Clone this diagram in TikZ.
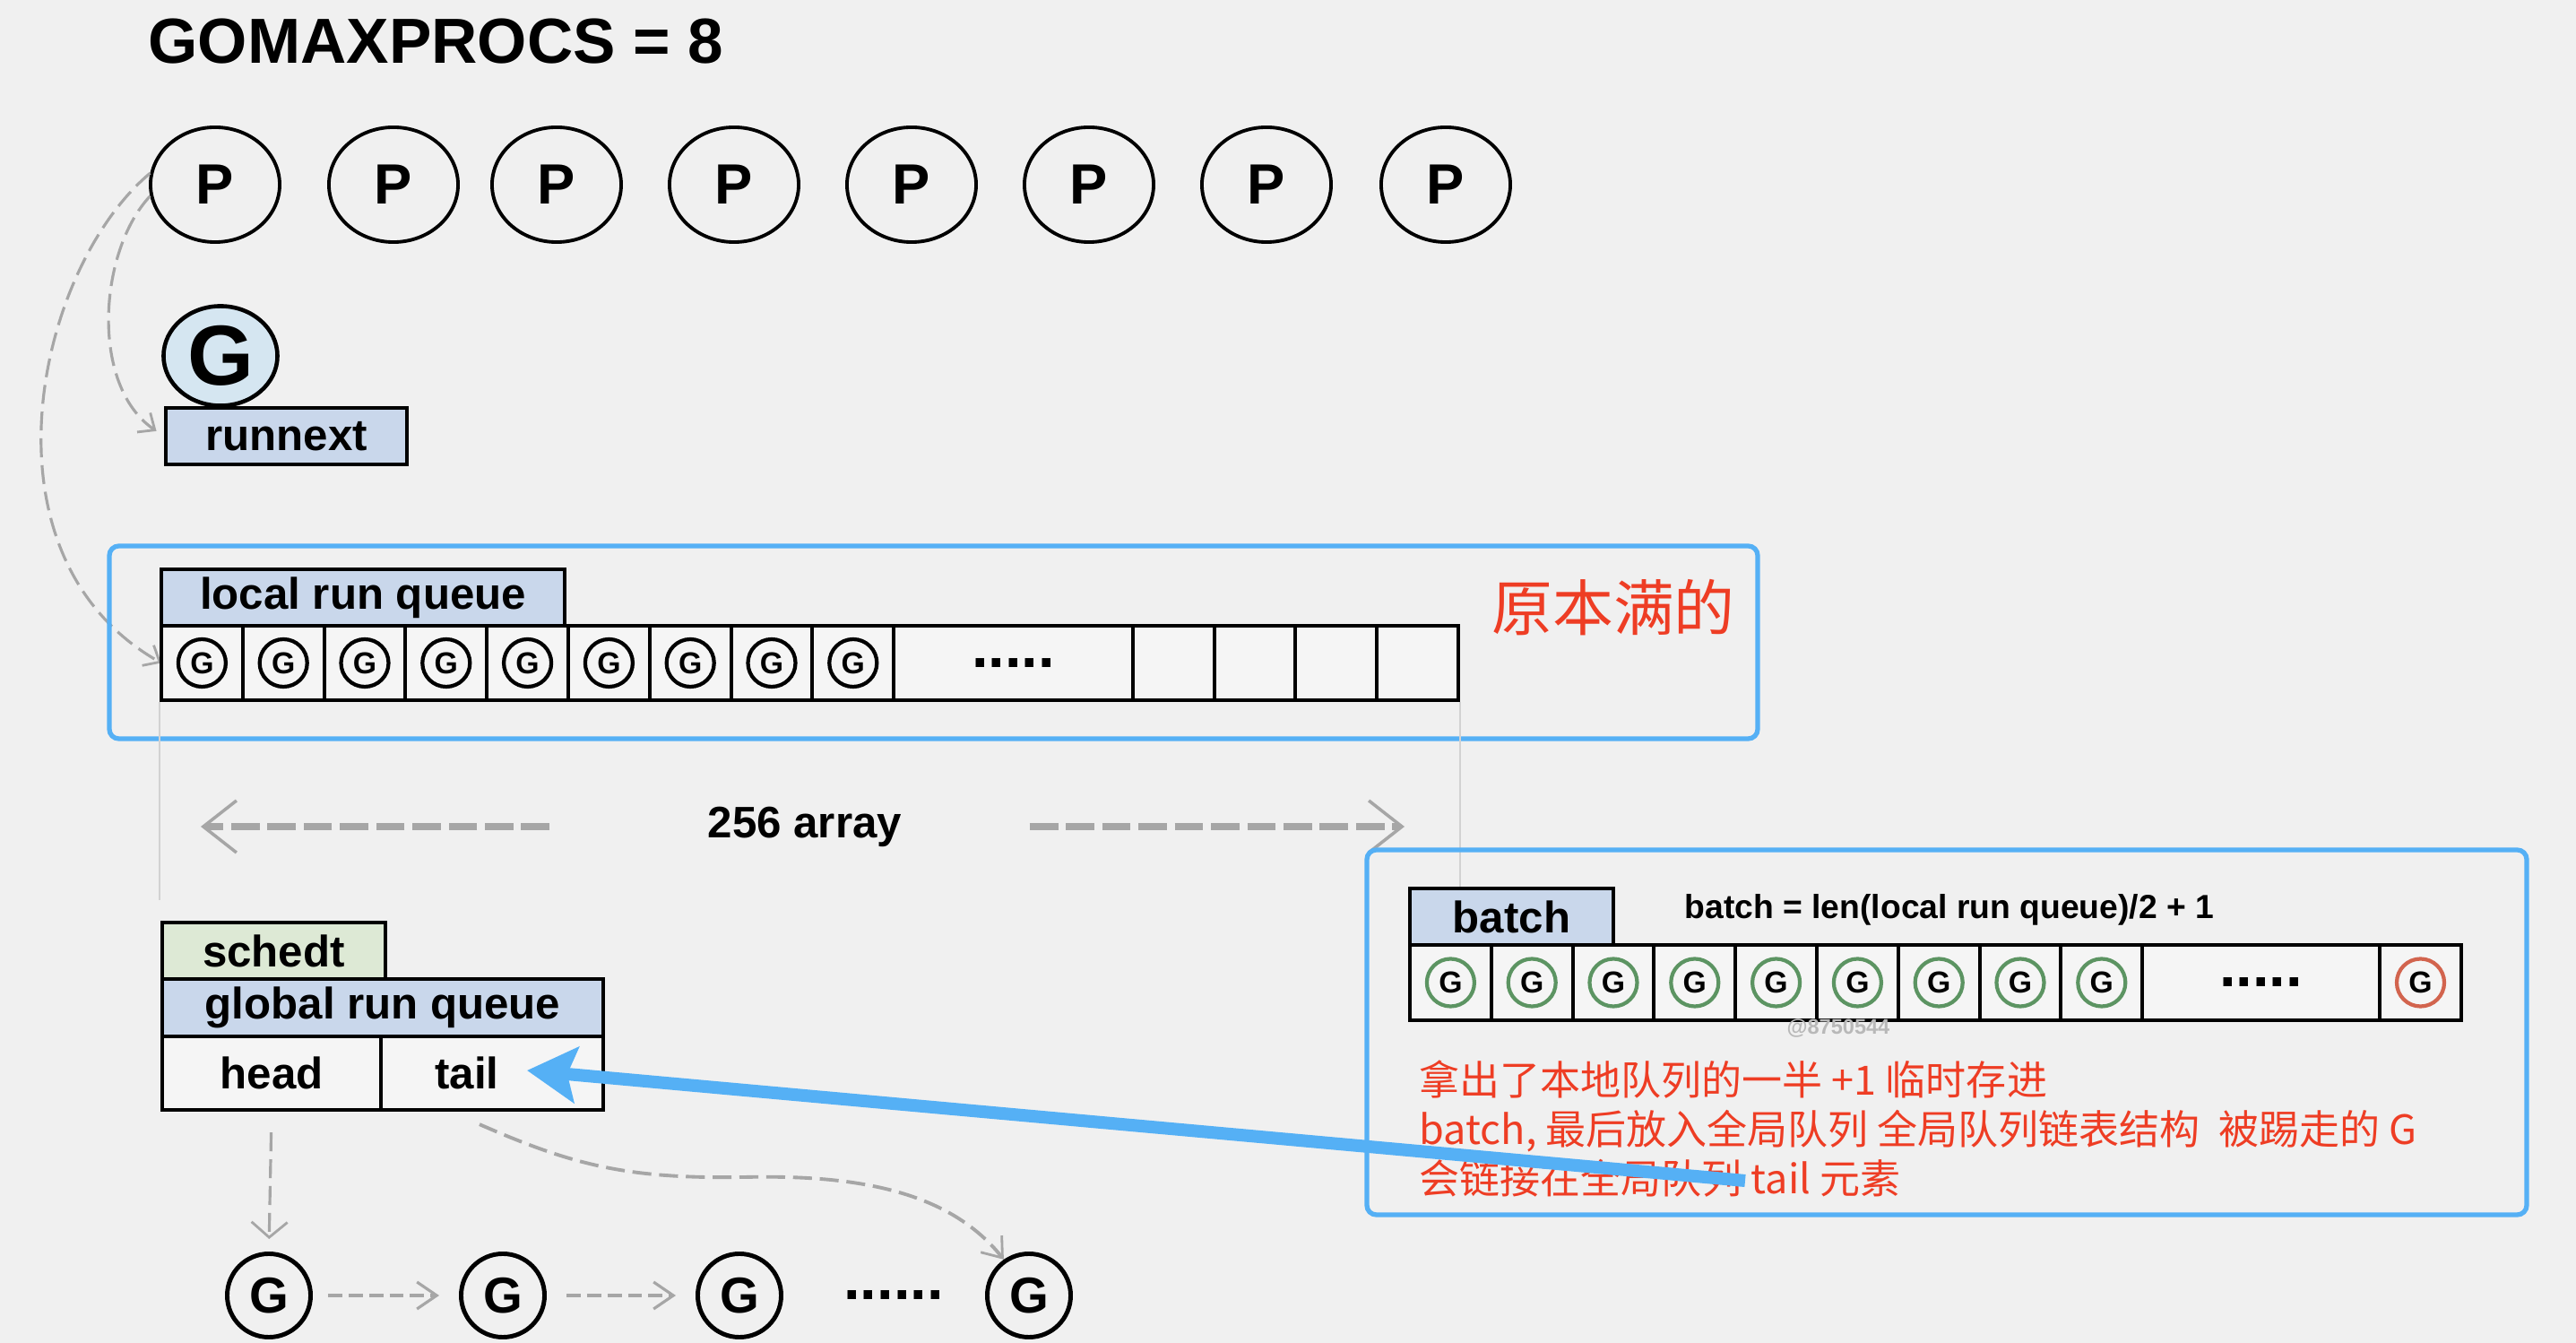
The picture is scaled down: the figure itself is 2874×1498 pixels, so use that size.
\documentclass[tikz,border=0pt]{standalone}
\usepackage{fontspec}
\setmainfont{Liberation Sans}
\newfontfamily\cjk{Noto Sans CJK SC}
\usepackage{tikz}
\usetikzlibrary{shapes.geometric}
\usetikzlibrary{arrows.meta}
\definecolor{bgcol}{HTML}{F0F0F0}
\definecolor{frameblue}{HTML}{55B0F5}
\definecolor{lblblue}{HTML}{C9D7EB}
\definecolor{gblue}{HTML}{D5E6F1}
\definecolor{schedgreen}{HTML}{DDE9D5}
\definecolor{cellgray}{HTML}{F5F5F5}
\definecolor{dashgray}{HTML}{A6A6A6}
\definecolor{guidegray}{HTML}{D2D2D2}
\definecolor{markgray}{HTML}{B8B8B8}
\definecolor{ringgreen}{HTML}{5C9462}
\definecolor{ringred}{HTML}{D2644E}
\definecolor{notered}{HTML}{EE3D24}
\newcommand{\fsz}[1]{\fontsize{#1pt}{#1pt}\selectfont}
\tikzstyle{proc}=[draw, ellipse, line width=1.1pt, minimum width=1.44cm, minimum height=1.28cm, inner sep=0pt, font=\bfseries\fsz{18}]
\tikzstyle{field}=[draw, line width=1.2pt, inner sep=0pt, font=\bfseries\fsz{14}]
\tikzstyle{lfield}=[field, fill=lblblue, minimum height=0.63cm]
\tikzstyle{qcell}=[draw, line width=1.1pt, fill=cellgray, minimum width=0.908cm, minimum height=0.83cm, inner sep=0pt]
\tikzstyle{gsmall}=[draw, circle, line width=1.2pt, minimum size=0.53cm, inner sep=0pt, font=\bfseries\fsz{9.6}]
\tikzstyle{ggreen}=[gsmall, draw=ringgreen]
\tikzstyle{gred}=[gsmall, draw=ringred]
\tikzstyle{gchain}=[draw, circle, line width=1.4pt, minimum size=0.93cm, inner sep=0pt, font=\bfseries\fsz{16}]
\tikzstyle{qframe}=[draw=frameblue, line width=1.5pt, rounded corners=3pt]
\tikzstyle{gdash}=[dashgray, line width=0.9pt, dash pattern=on 6pt off 2.5pt]
\tikzstyle{cdash}=[dashgray, line width=1.3pt, dash pattern=on 4.5pt off 2pt]
\tikzstyle{bigdash}=[dashgray, line width=2.4pt, dash pattern=on 9pt off 2.5pt]

\begin{document}
\begin{tikzpicture}[x=0.01cm, y=-0.01cm]
    \fill[bgcol] (0,0) rectangle (2874,1498);
    \useasboundingbox (0,0) rectangle (2874,1498);
    \node[anchor=west, inner sep=0pt, font=\bfseries\fsz{20.2}] (title) at (165,46) {GOMAXPROCS = 8};
    \foreach \i/\x in {1/240, 2/439, 3/621, 4/819, 5/1017, 6/1215, 7/1413, 8/1613}
        \node[proc] (P\i) at (\x,206) {P};
    \node[draw, ellipse, line width=1.3pt, fill=gblue, minimum width=1.27cm, minimum height=1.11cm, inner sep=0pt, font=\bfseries\fsz{27}] (Gnext) at (246,397) {G};
    \node[lfield, minimum width=2.69cm] (runnext) at (319.5,486.5) {runnext};
    \draw[gdash, -{Straight Barb[length=0.15cm, width=0.26cm, line width=0.8pt]}, shorten >=0.1cm] (P1.190) .. controls (110,280) and (100,430) .. (runnext.west);
    \draw[gdash, -{Straight Barb[length=0.15cm, width=0.26cm, line width=0.8pt]}] (P1.170) .. controls (40,300) and (-30,620) .. (180,739.5);
    \draw[qframe] (122,609) rectangle (1961,824);
    \node[lfield, minimum width=4.50cm] (lrq) at (405,666.5) {local run queue};
    \foreach \i in {1,...,9} {
        \node[qcell] (L\i) at (180+90.8*\i-45.4,739.5) {};
        \node[gsmall] at (L\i) {G};
    }
    \node[qcell, minimum width=2.67cm, font=\bfseries\fsz{19}] (Ldots) at (1130.5,739.5) {.....};
    \foreach \i in {1,...,4}
        \node[qcell] (E\i) at (1264+90.75*\i-45.4,739.5) {};
    \node[text=notered, font=\cjk\fsz{19.3}] (full) at (1800,678) {原本满的};
    \draw[guidegray, line width=0.6pt] (L1.south west) -- +(0,221);
    \draw[guidegray, line width=0.6pt] (E4.south east) -- +(0,221);
    \node[inner sep=0pt, font=\bfseries\fsz{14}] (span) at (898,922) {256 array};
    \coordinate (spanL) at (224,922);
    \coordinate (spanR) at (1567,922);
    \draw[bigdash, -{Straight Barb[length=0.37cm, width=0.58cm, line width=1pt]}, shorten <=1.76cm] (span.west) -- (spanL);
    \draw[bigdash, -{Straight Barb[length=0.37cm, width=0.58cm, line width=1pt]}, shorten <=1.42cm] (span.east) -- (spanR);
    \node[field, fill=schedgreen, minimum width=2.49cm, minimum height=0.63cm] (schedt) at (305.5,1060.5) {schedt};
    \node[lfield, minimum width=4.92cm, minimum height=0.64cm] (grq) at (427,1124) {global run queue};
    \node[field, fill=cellgray, minimum width=2.44cm, minimum height=0.82cm] (head) at (303,1197) {head};
    \node[field, fill=cellgray, minimum width=2.48cm, minimum height=0.82cm, label={[font=\bfseries\fsz{14}, xshift=-0.28cm]center:tail}] (tail) at (549,1197) {};
    \node[gchain] (C1) at (300,1445) {G};
    \node[gchain] (C2) at (561,1445) {G};
    \node[gchain] (C3) at (825,1445) {G};
    \node[gchain] (C4) at (1148,1445) {G};
    \node[font=\bfseries\fsz{19}] (cdots) at (997,1445) {......};
    \draw[cdash, -{Straight Barb[length=0.22cm, width=0.3cm, line width=0.9pt]}, shorten <=0.17cm, shorten >=0.22cm] (C1) -- (C2);
    \draw[cdash, -{Straight Barb[length=0.22cm, width=0.3cm, line width=0.9pt]}, shorten <=0.22cm, shorten >=0.22cm] (C2) -- (C3);
    \draw[gdash, -{Straight Barb[length=0.17cm, width=0.4cm, line width=0.8pt]}, shorten <=0.23cm, shorten >=0.14cm] (head.south) -- (C1.north);
    \draw[gdash, line width=1.1pt, -{Straight Barb[length=0.2cm, width=0.3cm, line width=0.8pt]}] ([shift={(-14,14)}]tail.south) .. controls (640,1300) and (700,1315) .. (830,1313) .. controls (960,1310) and (1060,1330) .. (C4.125);
    \draw[qframe] (1525,948) rectangle (2819,1355);
    \node[lfield, minimum width=2.27cm] (batch) at (1686.5,1022.5) {batch};
    \node[anchor=west, inner sep=0pt, font=\bfseries\fsz{10.6}] (formula) at (1879,1015) {batch = len(local run queue)/2 + 1};
    \foreach \i in {1,...,9} {
        \node[qcell, minimum height=0.84cm] (B\i) at (1573+90.8*\i-45.4,1096) {};
        \node[ggreen] at (B\i) {G};
    }
    \node[qcell, minimum width=2.65cm, minimum height=0.84cm, font=\bfseries\fsz{19}] (Bdots) at (2522.5,1096) {.....};
    \node[qcell, minimum height=0.84cm] (Blast) at (2700.5,1096) {};
    \node[gred] at (Blast) {G};
    \node[text=markgray, font=\bfseries\fsz{6.7}] (mark) at (2051,1147) {@8750544};
    \node[anchor=west, align=left, inner sep=0pt, text=notered, font=\cjk\fontsize{12.8pt}{15.6pt}\selectfont] (note) at (1583,1259) {拿出了本地队列的一半 +1 临时存进\\batch, 最后放入全局队列 全局队列链表结构 \ 被踢走的 G\\会链接在全局队列 tail 元素};
    \coordinate (kicked) at (1947,1317);
    \draw[frameblue, line width=4pt, -{Stealth[length=0.55cm, width=0.62cm, inset=0.1cm]}] (kicked) -- ([xshift=0.39cm, yshift=0.03cm]tail.center);
\end{tikzpicture}
\end{document}
